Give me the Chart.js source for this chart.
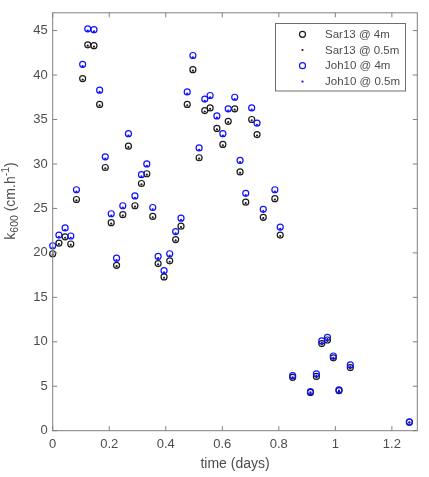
<!DOCTYPE html>
<html>
<head>
<meta charset="utf-8">
<script src="https://cdn.jsdelivr.net/npm/chart.js@4.4.0/dist/chart.umd.min.js"></script>
<style>
  html, body { margin: 0; padding: 0; background: #fff; }
  #wrap { width: 429px; height: 477px; }
</style>
</head>
<body>
<div id="wrap"><canvas id="k600-chart" width="429" height="477"></canvas></div>
<script>
// sample times (days)
const timeDays = [0, 0.022, 0.044, 0.064, 0.084, 0.106, 0.124, 0.146, 0.166, 0.186,
  0.207, 0.226, 0.248, 0.268, 0.291, 0.314, 0.333, 0.354, 0.373, 0.394,
  0.414, 0.435, 0.454, 0.476, 0.496, 0.518, 0.538, 0.557, 0.581, 0.602,
  0.621, 0.644, 0.663, 0.683, 0.704, 0.723, 0.745, 0.786, 0.805, 0.849,
  0.912, 0.933, 0.952, 0.972, 0.993, 1.013, 1.053, 1.262];

// k600 (cm/h)
const sar13At4m = [19.9, 21.1, 21.8, 21.0, 26.0, 39.6, 43.4, 43.3, 36.7, 29.6,
  23.4, 18.6, 24.3, 32.0, 25.3, 27.8, 28.9, 24.1, 18.8, 17.3,
  19.1, 21.5, 23.0, 36.7, 40.6, 30.7, 36.0, 36.3, 34.0, 32.2,
  34.8, 36.2, 29.1, 25.7, 35.0, 33.3, 24.0, 26.1, 22.0, 6.0,
  4.3, 6.1, 9.8, 10.2, 8.2, 4.5, 7.1, 0.95];
const sar13At05m = [19.8, 21.0, 21.7, 20.9, 25.9, 39.5, 43.3, 43.2, 36.6, 29.5,
  23.3, 18.5, 24.2, 31.9, 25.2, 27.7, 28.8, 24.0, 18.7, 17.2,
  19.0, 21.4, 22.9, 36.6, 40.5, 30.6, 35.9, 36.2, 33.9, 32.1,
  34.7, 36.1, 29.0, 25.6, 34.9, 33.2, 23.9, 26.0, 21.9, 5.9,
  4.2, 6.0, 9.7, 10.1, 8.1, 4.4, 7.0, 0.9];
const joh10At4m = [20.8, 22.0, 22.8, 21.9, 27.1, 41.2, 45.2, 45.1, 38.3, 30.8,
  24.4, 19.4, 25.3, 33.4, 26.4, 28.8, 30.0, 25.1, 19.6, 18.0,
  19.9, 22.4, 23.9, 38.1, 42.2, 31.8, 37.3, 37.7, 35.4, 33.4,
  36.2, 37.5, 30.4, 26.7, 36.3, 34.6, 24.9, 27.1, 22.9, 6.2,
  4.4, 6.4, 10.1, 10.5, 8.4, 4.6, 7.4, 1.0];
const joh10At05m = [20.6, 21.8, 22.6, 21.7, 26.9, 41.0, 45.0, 44.9, 38.1, 30.6,
  24.2, 19.2, 25.1, 33.2, 26.2, 28.6, 29.8, 24.9, 19.4, 17.8,
  19.7, 22.2, 23.7, 37.9, 42.0, 31.6, 37.1, 37.5, 35.2, 33.2,
  36.0, 37.3, 30.2, 26.5, 36.1, 34.4, 24.7, 26.9, 22.7, 6.0,
  4.3, 6.2, 9.9, 10.3, 8.2, 4.5, 7.2, 0.95];

const seriesLabels = ['Sar13 @ 4m', 'Sar13 @ 0.5m', 'Joh10 @ 4m', 'Joh10 @ 0.5m'];
const xTicks = [0, 0.2, 0.4, 0.6, 0.8, 1, 1.2];
const yTicks = [0, 5, 10, 15, 20, 25, 30, 35, 40, 45];
const xLabel = 'time (days)';

const FONT = '"Liberation Sans", Arial, sans-serif';
const axisColor = '#808080';
const textColor = '#4d4d4d';

const toPoints = (ys) => timeDays.map((t, i) => ({ x: t, y: ys[i] }));

const matlabFrame = {
  id: 'matlabFrame',
  afterDraw(chart) {
    const { ctx, chartArea: { left, top, right, bottom }, scales: { x, y } } = chart;
    ctx.save();
    ctx.strokeStyle = axisColor;
    ctx.lineWidth = 1;
    ctx.strokeRect(left, top, right - left, bottom - top);
    ctx.beginPath();
    xTicks.forEach((v) => {
      const px = x.getPixelForValue(v);
      ctx.moveTo(px, bottom); ctx.lineTo(px, bottom - 4.5);
      ctx.moveTo(px, top); ctx.lineTo(px, top + 4.5);
    });
    yTicks.forEach((v) => {
      const py = y.getPixelForValue(v);
      ctx.moveTo(left, py); ctx.lineTo(left + 4.5, py);
      ctx.moveTo(right, py); ctx.lineTo(right - 4.5, py);
    });
    ctx.stroke();

    // x label
    ctx.fillStyle = textColor;
    ctx.font = '14px ' + FONT;
    ctx.textAlign = 'center';
    ctx.textBaseline = 'middle';
    ctx.fillText(xLabel, (left + right) / 2, 464);

    // y label: k_600 (cm.h^-1)
    ctx.save();
    ctx.translate(14.5, 201);
    ctx.rotate(-Math.PI / 2);
    ctx.textAlign = 'left';
    ctx.textBaseline = 'alphabetic';
    const big = '14px ' + FONT;
    const small = '10.5px ' + FONT;
    const parts = [
      { s: 'k', f: big, dy: 0 },
      { s: '600', f: small, dy: 3.5 },
      { s: ' (cm.h', f: big, dy: 0 },
      { s: '-1', f: small, dy: -5.5 },
      { s: ')', f: big, dy: 0 },
    ];
    let total = 0;
    parts.forEach((p) => { ctx.font = p.f; total += ctx.measureText(p.s).width; });
    let cx = -total / 2;
    parts.forEach((p) => {
      ctx.font = p.f;
      ctx.fillText(p.s, cx, p.dy);
      cx += ctx.measureText(p.s).width;
    });
    ctx.restore();

    // legend box
    const lx = 275.5, ly = 23.5, lw = 130, lh = 67.5;
    ctx.fillStyle = '#fff';
    ctx.fillRect(lx, ly, lw, lh);
    ctx.strokeStyle = '#6e6e6e';
    ctx.strokeRect(lx, ly, lw, lh);
    const rows = [34.3, 50, 65.7, 81.6];
    chart.data.datasets.forEach((ds, i) => {
      const ry = rows[i];
      ctx.beginPath();
      ctx.arc(302.5, ry, ds.pointRadius, 0, Math.PI * 2);
      if (ds.pointBackgroundColor !== 'transparent') {
        ctx.fillStyle = ds.pointBackgroundColor;
        ctx.fill();
      } else {
        ctx.strokeStyle = ds.pointBorderColor;
        ctx.lineWidth = ds.pointBorderWidth;
        ctx.stroke();
      }
      ctx.fillStyle = textColor;
      ctx.font = '11.5px ' + FONT;
      ctx.textAlign = 'left';
      ctx.textBaseline = 'middle';
      ctx.fillText(ds.label, 325, ry + 0.5);
    });
    ctx.restore();
  },
};

const ringStyle = (color) => ({
  pointRadius: 3,
  pointBorderWidth: 1.2,
  pointBorderColor: color,
  pointBackgroundColor: 'transparent',
});
const dotStyle = (color) => ({
  pointRadius: 1.1,
  pointBorderWidth: 0,
  pointBorderColor: color,
  pointBackgroundColor: color,
});

const config = {
  type: 'scatter',
  data: {
    datasets: [
      { label: seriesLabels[0], data: toPoints(sar13At4m), order: 4, clip: false, ...ringStyle('#1a1a1a') },
      { label: seriesLabels[1], data: toPoints(sar13At05m), order: 3, clip: false, ...dotStyle('#1a1a1a') },
      { label: seriesLabels[2], data: toPoints(joh10At4m), order: 2, clip: false, ...ringStyle('#1010ff') },
      { label: seriesLabels[3], data: toPoints(joh10At05m), order: 1, clip: false, ...dotStyle('#1010ff') },
    ],
  },
  options: {
    responsive: false,
    animation: false,
    devicePixelRatio: 1,
    layout: { padding: { left: 0, right: 11.7, top: 8.3, bottom: 0 } },
    plugins: {
      legend: { display: false },
      tooltip: { enabled: false },
    },
    scales: {
      x: {
        type: 'linear',
        min: 0,
        max: 1.29,
        afterBuildTicks: (s) => { s.ticks = xTicks.map((v) => ({ value: v })); },
        afterFit: (s) => { s.height = 46.3; },
        grid: { display: false, drawTicks: false, tickLength: 0 },
        border: { display: false },
        ticks: {
          padding: 6,
          maxRotation: 0,
          autoSkip: false,
          color: textColor,
          font: { family: FONT, size: 13 },
          callback: (v) => String(v),
        },
      },
      y: {
        type: 'linear',
        min: 0,
        max: 47,
        afterBuildTicks: (s) => { s.ticks = yTicks.map((v) => ({ value: v })); },
        afterFit: (s) => { s.width = 52.7; },
        grid: { display: false, drawTicks: false, tickLength: 0 },
        border: { display: false },
        ticks: {
          padding: 5,
          autoSkip: false,
          color: textColor,
          font: { family: FONT, size: 13 },
          callback: (v) => String(v),
        },
      },
    },
  },
  plugins: [matlabFrame],
};

const ctxK600 = document.getElementById('k600-chart').getContext('2d');
const k600Chart = new Chart(ctxK600, config);
</script>
</body>
</html>
